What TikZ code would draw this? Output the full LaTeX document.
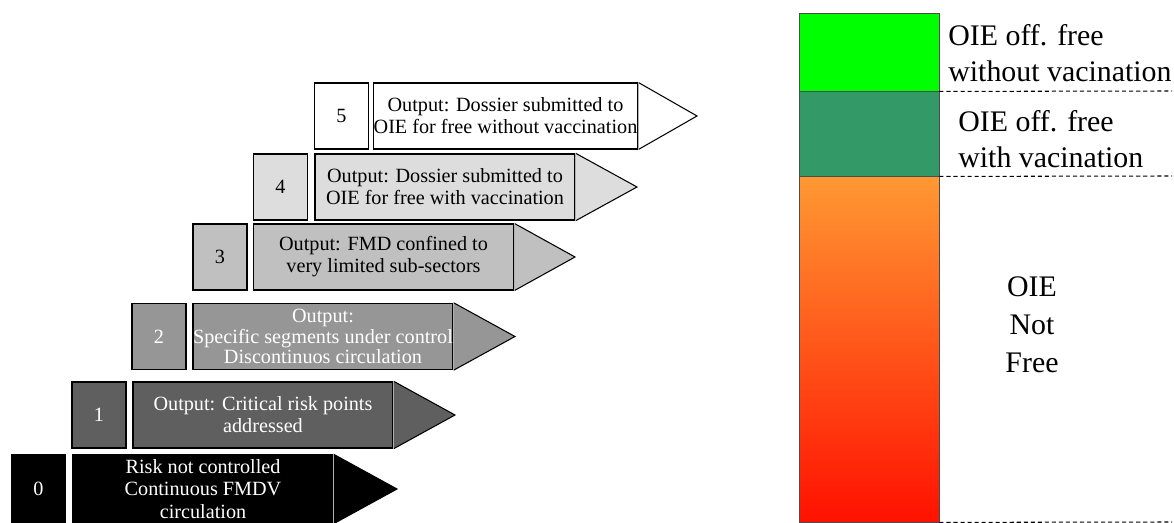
\documentclass[tikz,border=0pt]{standalone}
\usepackage{fontspec}
\setmainfont{Liberation Serif}
\definecolor{gray1}{HTML}{5F5F5F}
\definecolor{gray2}{HTML}{969696}
\definecolor{gray3}{HTML}{C0C0C0}
\definecolor{gray4}{HTML}{DDDDDD}
\definecolor{oiegreen}{HTML}{00FF00}
\definecolor{oieteal}{HTML}{339966}
\definecolor{oieorange}{HTML}{FF9933}
\definecolor{oiered}{HTML}{FF1100}
\tikzset{
	numbox/.style={draw=black, line width=0.8pt, minimum width=1.08cm, minimum height=1.32cm, inner sep=0pt, font=\fontsize{11.5}{13}\selectfont},
	outbox/.style={draw=black, line width=0.8pt, minimum width=5.2cm, minimum height=1.32cm, inner sep=0pt, align=center, font=\fontsize{11.5}{12.6}\selectfont},
	headtri/.style={draw=black, line width=0.6pt},
	joinline/.style={draw=gray!60, line width=0.6pt},
	barbox/.style={draw=black!70, line width=0.5pt, minimum width=2.8cm, inner sep=0pt},
	levellabel/.style={font=\fontsize{17}{20.6}\selectfont, inner sep=0pt},
	levelline/.style={dash pattern=on 2.3pt off 1.7pt, line width=0.6pt}
}
\begin{document}
\begin{tikzpicture}[x=0.02cm, y=-0.02cm]
	\useasboundingbox (0,0) rectangle (1174,523);
	% step 0
	\node[numbox, fill=black, text=white, minimum height=1.36cm] (n0) at (38.5,489) {0};
	\node[outbox, fill=black, text=white, minimum height=1.36cm] (m0) at (203,489) {Risk not controlled\\Continuous FMDV\\circulation};
	\coordinate (t0) at (397,489);
	\filldraw[headtri, fill=black] (m0.north east) -- (t0) -- (m0.south east);
	\draw[joinline] (m0.north east) -- (m0.south east);
	% step 1
	\node[numbox, fill=gray1, text=white] (n1) at (99,415) {1};
	\node[outbox, fill=gray1, text=white] (m1) at (263,415) {Output: Critical risk points\\addressed};
	\coordinate (t1) at (455,415);
	\filldraw[headtri, fill=gray1] (m1.north east) -- (t1) -- (m1.south east);
	\draw[joinline] (m1.north east) -- (m1.south east);
	% step 2
	\node[numbox, fill=gray2, text=white] (n2) at (159,336.5) {2};
	\node[outbox, fill=gray2, text=white, font=\fontsize{11.5}{11.8}\selectfont] (m2) at (323,336.5) {Output:\\Specific segments under control\\Discontinuos circulation};
	\coordinate (t2) at (515,336.5);
	\filldraw[headtri, fill=gray2] (m2.north east) -- (t2) -- (m2.south east);
	\draw[joinline] (m2.north east) -- (m2.south east);
	% step 3
	\node[numbox, fill=gray3] (n3) at (220,257) {3};
	\node[outbox, fill=gray3] (m3) at (383.5,257) {Output: FMD confined to\\very limited sub-sectors};
	\coordinate (t3) at (575,257);
	\filldraw[headtri, fill=gray3] (m3.north east) -- (t3) -- (m3.south east);
	\draw[joinline] (m3.north east) -- (m3.south east);
	% step 4
	\node[numbox, fill=gray4] (n4) at (280.5,187) {4};
	\node[outbox, fill=gray4] (m4) at (445,187) {Output: Dossier submitted to\\OIE for free with vaccination};
	\coordinate (t4) at (637,187);
	\filldraw[headtri, fill=gray4] (m4.north east) -- (t4) -- (m4.south east);
	\draw[joinline] (m4.north east) -- (m4.south east);
	% step 5
	\node[numbox, fill=white] (n5) at (341.5,116) {5};
	\node[outbox, fill=white] (m5) at (505.5,116) {Output: Dossier submitted to\\OIE for free without vaccination};
	\coordinate (t5) at (697,116);
	\filldraw[headtri, fill=white] (m5.north east) -- (t5) -- (m5.south east);
	\draw[joinline] (m5.north east) -- (m5.south east);
	% status bar
	\node[barbox, fill=oiegreen, minimum height=1.56cm] (freenv) at (869,52) {};
	\node[barbox, fill=oieteal, minimum height=1.7cm] (freev) at (869,133.5) {};
	\node[barbox, top color=oieorange, bottom color=oiered, minimum height=6.92cm] (notfree) at (869,349) {};
	\coordinate (d1) at (1172,91);
	\coordinate (d2) at (1172,176);
	\coordinate (d3) at (1172,522);
	\draw[levelline] (freenv.south east) -- (d1);
	\draw[levelline] (freev.south east) -- (d2);
	\draw[levelline] (notfree.south east) -- (d3);
	\node[levellabel, anchor=west, align=left] (lnv) at (948,53) {OIE off. free\\without vacination};
	\node[levellabel, anchor=west, align=left] (lv) at (958,139) {OIE off. free\\with vacination};
	\node[levellabel, align=center, font=\fontsize{17}{21.5}\selectfont] (lnf) at (1032,325) {OIE\\Not\\Free};
\end{tikzpicture}
\end{document}
